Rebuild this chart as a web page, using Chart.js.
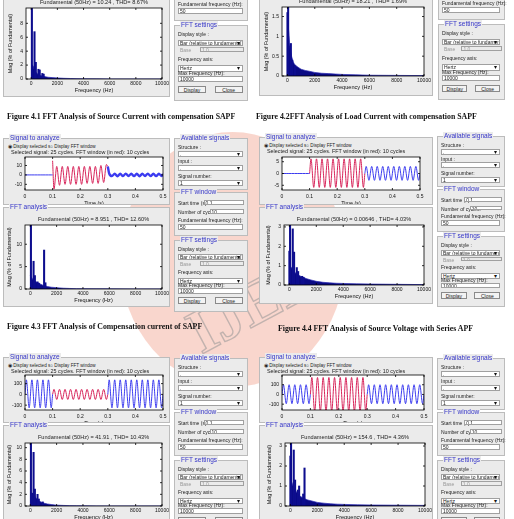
<!DOCTYPE html>
<html>
<head>
<meta charset="utf-8">
<script src="https://cdn.jsdelivr.net/npm/chart.js@4.4.1/dist/chart.umd.min.js"></script>
<style>
body{margin:0;width:514px;height:519px;overflow:hidden;background:#fff;position:relative;font-family:'Liberation Sans',Arial,sans-serif}
.box{position:absolute;background:#ebebeb;border:1px solid #bcbcbc;box-sizing:border-box;z-index:1}
.clip{overflow:hidden}
.leg{position:absolute;color:#3535c8;font-size:6.5px;line-height:7px;background:#ebebeb;padding:0 1px;white-space:nowrap;z-index:3}
.lbl{position:absolute;font-size:5px;line-height:6px;color:#222;white-space:nowrap;z-index:2}
.inp{position:absolute;background:#fff;border:1px solid #a0a0a0;box-sizing:border-box;font-size:5px;line-height:5px;padding-left:1px;color:#222;white-space:nowrap;overflow:hidden;z-index:2}
.dd:after{content:'\25BE';position:absolute;right:2px;top:0;font-size:6px;line-height:5px;color:#111}
.btn{position:absolute;background:#f3f3f3;border:1px solid #8a8a8a;box-sizing:border-box;font-size:5px;text-align:center;color:#222;z-index:2}
.cap{position:absolute;font-family:'Liberation Serif','Times New Roman',serif;font-weight:bold;font-size:7.8px;line-height:9px;white-space:nowrap;color:#111}
.wm{position:absolute;z-index:0}
</style>
</head>
<body>
<script>
// axis ticks shared by all figures
const freqTicks = [0, 2000, 4000, 6000, 8000, 10000];
const timeTicks = [0, 0.1, 0.2, 0.3, 0.4, 0.5];

// frequencies of the dense harmonic floor and sample times of the signals
const floorHz = [0, 100, 150, 200, 300, 400, 500, 700, 1000, 1300, 1600, 2000, 2500, 3000, 3500, 4000, 5000, 6000, 8000, 10000];
const tPre = [0, 0.005, 0.015, 0.025, 0.035, 0.045, 0.055, 0.065, 0.075, 0.085, 0.095, 0.1];
const tWin = [0.1, 0.105, 0.115, 0.125, 0.135, 0.145, 0.155, 0.165, 0.175, 0.185, 0.195, 0.205, 0.215, 0.225, 0.235, 0.245, 0.255, 0.265, 0.275, 0.285, 0.295, 0.3];
const tPost = [0.3, 0.305, 0.315, 0.325, 0.335, 0.345, 0.355, 0.365, 0.375, 0.385, 0.395, 0.405, 0.415, 0.425, 0.435, 0.445, 0.455, 0.465, 0.475, 0.485, 0.495, 0.5];

// Figure 4.1 - source current with SAPF
const fig41Title = 'Fundamental (50Hz) = 10.24 , THD= 8.67%';
const fig41HarmHz = [50, 250, 350, 550, 650, 850, 950];
const fig41Harm = [100, 6.8, 2.4, 1.4, 1.3, 0.8, 0.7];
const fig41Floor = [2.1, 2.0, 1.8, 1.5, 1.1, 0.9, 0.7, 0.5, 0.35, 0.25, 0.2, 0.15, 0.1, 0.07, 0.05, 0.03, 0.02, 0.01, 0.01, 0.01];
const fig41YTicks = [0, 2, 4, 6, 8];

// Figure 4.2 - load current
const fig42Title = 'Fundamental (50Hz) = 18.21 , THD= 1.69%';
const fig42HarmHz = [0, 50, 250, 350, 550];
const fig42Harm = [1.6, 100, 0.82, 0.4, 0.25];
const fig42Floor = [1.45, 1.1, 0.85, 0.7, 0.5, 0.38, 0.3, 0.24, 0.17, 0.14, 0.12, 0.09, 0.07, 0.06, 0.05, 0.04, 0.03, 0.02, 0.015, 0.01];
const fig42YTicks = [0, 0.5, 1, 1.5];

// Figure 4.3 - compensation current
const fig43Title = 'Fundamental (50Hz) = 8.951 , THD= 12.60%';
const fig43HarmHz = [50, 250, 350, 550, 650, 1050, 1150];
const fig43Harm = [100, 6.2, 3.0, 1.6, 1.3, 8.7, 1.4];
const fig43Floor = [3.0, 2.6, 2.3, 2.1, 1.9, 1.7, 1.5, 1.2, 0.8, 0.55, 0.4, 0.3, 0.18, 0.12, 0.08, 0.06, 0.04, 0.03, 0.02, 0.02];
const fig43YTicks = [0, 5, 10];
const fig43SigTicks = [-10, 0, 10];
const fig43Pre = [0, 0, 0, 0, 0, 0, 0, 0, 0, 0, 0, 0];
const fig43Win = [15, -15, 9, -11, 9, -10, 9, -10, 9, -10, 9, -10, 9, -9, 9, -9, 9, -9, 10, -8, 11, 9];
const fig43Post = [9, 1.5, -1.2, 1.3, -1.4, 1.2, -1.3, 1.4, -1.2, 1.3, -1.3, 1.2, -1.4, 1.3, -1.2, 1.4, -1.3, 1.2, -1.3, 1.3, -1.2, 1.0];

// Figure 4.4 - source voltage with series APF
const fig44Title = 'Fundamental (50Hz) = 0.00646 , THD= 4.03%';
const fig44HarmHz = [0, 50, 250, 350, 550, 650, 950, 1050];
const fig44Harm = [1.75, 100, 2.9, 1.7, 0.9, 0.7, 0.45, 0.4];
const fig44Floor = [1.0, 0.95, 0.9, 0.85, 0.75, 0.65, 0.6, 0.5, 0.4, 0.32, 0.26, 0.19, 0.14, 0.11, 0.09, 0.08, 0.06, 0.05, 0.035, 0.02];
const fig44YTicks = [0, 1, 2, 3];
const fig44SigTicks = [-5, 0, 5];
const fig44Pre = [0, 0, 0, 0, 0, 0, 0, 0, 0, 0, 0, 0];
const fig44Win = [0, 6.2, -5.9, 6.2, -5.9, 6.2, -5.9, 6.2, -5.9, 6.2, -5.9, 6.2, -5.9, 6.2, -5.9, 6.2, -5.9, 6.2, -5.9, 6.2, -5.9, 0];
const fig44Post = [0, 3, -2.9, 3, -2.9, 3, -2.9, 3, -2.9, 3, -2.9, 3, -2.9, 3, -2.9, 3, -2.9, 3, -2.9, 3, -2.9, 0];

// Figure 4.5
const fig45Title = 'Fundamental (50Hz) = 41.91 , THD= 10.43%';
const fig45HarmHz = [50, 150, 250, 350, 550, 650, 950];
const fig45Harm = [100, 2.2, 9.2, 2.9, 2.0, 1.2, 0.7];
const fig45Floor = [2.3, 2.2, 2.1, 2.0, 1.8, 1.5, 1.2, 0.8, 0.5, 0.35, 0.25, 0.15, 0.1, 0.06, 0.04, 0.03, 0.02, 0.01, 0.01, 0.01];
const fig45YTicks = [0, 2, 4, 6, 8, 10];
const fig45SigTicks = [-100, 0, 100];
const fig45Pre = [0, 135, -125, 135, -125, 135, -125, 135, -125, 135, -125, 0];
const fig45Win = [0, 47, -47, 47, -47, 47, -47, 47, -47, 47, -47, 47, -47, 47, -47, 47, -47, 47, -47, 47, -47, 0];
const fig45Post = [0, 135, -125, 135, -125, 135, -125, 135, -125, 135, -125, 135, -125, 135, -125, 135, -125, 135, -125, 135, -125, 0];

// Figure 4.6
const fig46Title = 'Fundamental (50Hz) = 154.6 , THD= 4.36%';
const fig46HarmHz = [0, 50, 250, 350, 550, 650, 950, 1050];
const fig46Harm = [2.5, 100, 2.8, 1.3, 0.8, 1.0, 0.6, 1.9];
const fig46Floor = [1.3, 1.2, 1.1, 1.0, 0.9, 0.75, 0.65, 0.5, 0.38, 0.3, 0.25, 0.18, 0.14, 0.11, 0.09, 0.08, 0.06, 0.05, 0.04, 0.03];
const fig46YTicks = [0, 1, 2, 3];
const fig46SigTicks = [-100, 0, 100];
const fig46Pre = [0, 100, -95, 100, -95, 100, -95, 100, -95, 100, -95, 0];
const fig46Win = [0, 175, -175, 175, -175, 175, -175, 175, -175, 175, -175, 175, -175, 175, -175, 175, -175, 175, -175, 175, -175, 0];
const fig46Post = [0, 100, -95, 100, -95, 100, -95, 100, -95, 100, -95, 100, -95, 100, -95, 100, -95, 100, -95, 100, -95, 0];

const captions = [
  ['Figure 4.1 FFT Analysis of Source Current with compensation SAPF', 7, 112],
  ['Figure 4.2FFT Analysis of Load Current with compensation SAPF', 256, 112],
  ['Figure 4.3 FFT Analysis of Compensation current of SAPF', 7, 322],
  ['Figure 4.4 FFT Analysis of Source Voltage with Series APF', 278, 324]
];

Chart.defaults.font.family = "'Liberation Sans', Arial, sans-serif";
Chart.defaults.color = '#111';

// MATLAB style box with inward ticks
const matlabAxes = {
  id: 'matlabAxes',
  beforeDraw(chart) {
    const a = chart.chartArea, ctx = chart.ctx;
    ctx.save();
    ctx.fillStyle = '#fff';
    ctx.fillRect(a.left, a.top, a.right - a.left, a.bottom - a.top);
    ctx.restore();
  },
  afterDraw(chart) {
    const a = chart.chartArea, ctx = chart.ctx;
    const x = chart.scales.x, y = chart.scales.y;
    ctx.save();
    ctx.strokeStyle = '#000';
    ctx.lineWidth = 0.8;
    ctx.strokeRect(a.left, a.top, a.right - a.left, a.bottom - a.top);
    ctx.beginPath();
    x.ticks.forEach(t => {
      const p = x.getPixelForValue(t.value);
      ctx.moveTo(p, a.bottom); ctx.lineTo(p, a.bottom - 2);
      ctx.moveTo(p, a.top); ctx.lineTo(p, a.top + 2);
    });
    y.ticks.forEach(t => {
      const p = y.getPixelForValue(t.value);
      ctx.moveTo(a.left, p); ctx.lineTo(a.left + 2, p);
      ctx.moveTo(a.right, p); ctx.lineTo(a.right - 2, p);
    });
    ctx.stroke();
    ctx.restore();
  }
};

function div(cls, x, y, w, h, text, parent) {
  const d = document.createElement('div');
  d.className = cls;
  d.style.left = x + 'px';
  d.style.top = y + 'px';
  if (w != null) d.style.width = w + 'px';
  if (h != null) d.style.height = h + 'px';
  if (text != null) d.textContent = text;
  (parent || document.body).appendChild(d);
  return d;
}

function groupBox(x, y, w, h, legend, clip) {
  const el = div('box' + (clip ? ' clip' : ''), x, y, w, h);
  if (legend) div('leg', x + 6, y - 4, null, null, legend).style.zIndex = 4;
  return { el, x, y };
}

function guiColumn(x, w, y0, s) {
  const Y = o => y0 + s * o;
  const lx = x + 4, iw = w - 9;
  groupBox(x, Y(0), w, 52 * s, 'Available signals');
  div('lbl', lx, Y(6), null, null, 'Structure :');
  div('inp dd', lx, Y(13), iw, 6 * s, '.');
  div('lbl', lx, Y(20), null, null, 'Input :');
  div('inp dd', lx, Y(27), iw, 6 * s, '.');
  div('lbl', lx, Y(35), null, null, 'Signal number:');
  div('inp dd', lx, Y(42), iw, 6 * s, '1');
  groupBox(x, Y(54), w, 44 * s, 'FFT window');
  div('lbl', lx, Y(62), null, null, 'Start time (s):');
  div('inp', x + w * 0.4, Y(62), w * 0.55, 5 * s, '0.1');
  div('lbl', lx, Y(71), null, null, 'Number of cycles:');
  div('inp', x + w * 0.48, Y(71), w * 0.47, 5 * s, '10');
  div('lbl', lx, Y(79), null, null, 'Fundamental frequency (Hz):');
  div('inp', lx, Y(86), iw, 5.5 * s, '50');
  groupBox(x, Y(102), w, 72 * s, 'FFT settings');
  div('lbl', lx, Y(108), null, null, 'Display style :');
  div('inp dd', lx, Y(116), iw, 6 * s, 'Bar (relative to fundamental)');
  const b = div('lbl', lx + 2, Y(123), null, null, 'Base');
  b.style.color = '#999';
  const bi = div('inp', x + w * 0.35, Y(123), w * 0.6, 4.5 * s, '1.0');
  bi.style.color = '#999'; bi.style.background = '#ebebeb';
  div('lbl', lx, Y(131), null, null, 'Frequency axis:');
  div('inp dd', lx, Y(140), iw, 6 * s, 'Hertz');
  div('lbl', lx, Y(144), null, null, 'Max Frequency (Hz):').style.zIndex = 3;
  div('inp', lx, Y(150), iw, 5.5 * s, '10000');
  div('btn', lx, Y(159), w * 0.38, 7 * s, 'Display');
  div('btn', x + w * 0.55, Y(159), w * 0.38, 7 * s, 'Close');
}

function addChart(box, plot, yW, xH, config) {
  const padTop = 4, padRight = 12;
  const left = plot.l - yW, top = plot.t - padTop;
  const w = plot.r - left + padRight, h = plot.b - top + xH;
  const c = document.createElement('canvas');
  c.width = w; c.height = h;
  c.style.cssText = 'position:absolute;left:' + (left - box.x - 1) + 'px;top:' + (top - box.y - 1) + 'px;width:' + w + 'px;height:' + h + 'px';
  box.el.appendChild(c);
  config.options.layout = { padding: { top: padTop, right: padRight, left: 0, bottom: 0 } };
  config.options.responsive = false;
  config.options.animation = false;
  config.options.devicePixelRatio = 1;
  config.options.events = [];
  config.options.plugins = { legend: { display: false }, tooltip: { enabled: false } };
  config.plugins = [matlabAxes];
  return new Chart(c, config);
}

function fixedTicks(values) {
  return s => { s.ticks = values.map(v => ({ value: v })); };
}

const noGrid = { display: false, drawTicks: false };

function fftChart(box, plot, title, harmHz, harm, floor, yMax, yTicks) {
  div('lbl', plot.l, plot.t - 7, plot.r - plot.l, null, title, box.el).style.cssText +=
    ';left:' + (plot.l - box.x - 1) + 'px;top:' + (plot.t - 7 - box.y - 1) + 'px;text-align:center;font-size:5.6px';
  addChart(box, plot, 19, 15, {
    type: 'bar',
    data: {
      datasets: [
        { type: 'bar', data: harmHz.map((f, i) => ({ x: f, y: harm[i] })), backgroundColor: '#0d0d8e',
          borderWidth: 0, barThickness: 1.4, order: 1 },
        { type: 'line', data: floorHz.map((f, i) => ({ x: f, y: floor[i] })), fill: 'origin',
          backgroundColor: '#0a0a84', borderColor: '#2b2bb0', borderWidth: 0.7, pointRadius: 0, tension: 0, order: 2 }
      ]
    },
    options: {
      scales: {
        x: { type: 'linear', min: -400, max: 10000, offset: false,
             grid: noGrid, border: { display: false },
             afterBuildTicks: fixedTicks(freqTicks),
             afterFit: s => { s.height = 15; },
             ticks: { font: { size: 5 }, padding: 2, maxRotation: 0, autoSkip: false, callback: v => String(v) },
             title: { display: true, text: 'Frequency (Hz)', font: { size: 5.6 }, padding: 0 } },
        y: { type: 'linear', min: 0, max: yMax,
             grid: noGrid, border: { display: false },
             afterBuildTicks: fixedTicks(yTicks),
             afterFit: s => { s.width = 19; },
             ticks: { font: { size: 5 }, padding: 3, callback: v => String(v) },
             title: { display: true, text: 'Mag (% of Fundamental)', font: { size: 5.4 }, padding: 0 } }
      }
    }
  });
}

function signalChart(box, plot, pre, win, post, yMin, yMax, yTicks) {
  const pts = (t, v) => t.map((x, i) => ({ x, y: v[i] }));
  const line = (data, color, bw) => ({ data, borderColor: color, borderWidth: bw || 1, pointRadius: 0,
    cubicInterpolationMode: 'monotone', fill: false });
  addChart(box, plot, 18, 17, {
    type: 'line',
    data: { datasets: [line(pts(tPre, pre), '#3c3cf0'), line(pts(tPost, post), '#3c3cf0', post === fig43Post ? 2.4 : 1),
                       line(pts(tWin, win), '#d8245a')] },
    options: {
      scales: {
        x: { type: 'linear', min: 0, max: 0.5, grid: noGrid, border: { display: false },
             afterBuildTicks: fixedTicks(timeTicks), afterFit: s => { s.height = 17; },
             ticks: { font: { size: 5 }, padding: 4, maxRotation: 0, autoSkip: false, callback: v => String(v) },
             title: { display: true, text: 'Time (s)', font: { size: 5.4 }, padding: 0 } },
        y: { type: 'linear', min: yMin, max: yMax, grid: noGrid, border: { display: false },
             afterBuildTicks: fixedTicks(yTicks), afterFit: s => { s.width = 18; },
             ticks: { font: { size: 5 }, padding: 3, callback: v => String(v) } }
      }
    }
  });
}

function signalHeader(box) {
  const r = div('lbl', 4, 5, null, null, '\u25C9 Display selected s\u25CB Display FFT window', box.el);
  r.style.fontSize = '4.6px';
  const s = div('lbl', 7, 9.5, null, null, 'Selected signal: 25 cycles. FFT window (in red): 10 cycles', box.el);
  s.style.fontSize = '5.4px';
}

// watermark behind the figures
const wm = div('wm', 120, 132, 225, 255);
wm.style.cssText += ';border-radius:50%;background:rgba(236,118,88,0.3)';
const wt = div('wm', 175, 305, null, null, 'IJEDR');
wt.style.cssText += ';font:bold 62px "Liberation Serif",serif;color:rgba(255,255,255,0);-webkit-text-stroke:1.4px rgba(150,150,150,0.55);transform:rotate(-28deg);transform-origin:left top';

// Figure 4.1
let b = groupBox(3, -12, 167, 109, null, true);
fftChart(b, { l: 26, r: 162, t: 6, b: 79 }, fig41Title, fig41HarmHz, fig41Harm, fig41Floor, 10.2, fig41YTicks);
guiColumn(174, 74, -83, 1.06);

// Figure 4.2
b = groupBox(259, -12, 174, 108, null, true);
fftChart(b, { l: 282, r: 424, t: 5, b: 76 }, fig42Title, fig42HarmHz, fig42Harm, fig42Floor, 1.74, fig42YTicks);
guiColumn(438, 67, -84, 1.06);

// Figure 4.3
b = groupBox(3, 138, 167, 67, 'Signal to analyze', true);
signalHeader(b);
signalChart(b, { l: 25, r: 163, t: 155, b: 190 }, fig43Pre, fig43Win, fig43Post, -16, 19, fig43SigTicks);
b = groupBox(3, 207, 167, 100, 'FFT analysis', true);
fftChart(b, { l: 25, r: 162, t: 223, b: 289 }, fig43Title, fig43HarmHz, fig43Harm, fig43Floor, 14.3, fig43YTicks);
guiColumn(174, 74, 138, 1);

// Figure 4.4
b = groupBox(259, 137, 174, 68, 'Signal to analyze', true);
signalHeader(b);
signalChart(b, { l: 282, r: 420, t: 155, b: 190 }, fig44Pre, fig44Win, fig44Post, -7, 7, fig44SigTicks);
b = groupBox(259, 207, 174, 97, 'FFT analysis', true);
fftChart(b, { l: 284, r: 424, t: 223, b: 285 }, fig44Title, fig44HarmHz, fig44Harm, fig44Floor, 3.1, fig44YTicks);
guiColumn(437, 68, 136, 0.98);

// Figure 4.5
b = groupBox(3, 357, 167, 66, 'Signal to analyze', true);
signalHeader(b);
signalChart(b, { l: 25, r: 163, t: 373, b: 410 }, fig45Pre, fig45Win, fig45Post, -145, 180, fig45SigTicks);
b = groupBox(3, 425, 167, 110, 'FFT analysis', true);
fftChart(b, { l: 25, r: 162, t: 441, b: 506 }, fig45Title, fig45HarmHz, fig45Harm, fig45Floor, 10.8, fig45YTicks);
guiColumn(174, 74, 358, 1);

// Figure 4.6
b = groupBox(259, 357, 174, 66, 'Signal to analyze', true);
signalHeader(b);
signalChart(b, { l: 282, r: 424, t: 373, b: 410 }, fig46Pre, fig46Win, fig46Post, -160, 200, fig46SigTicks);
b = groupBox(259, 425, 174, 110, 'FFT analysis', true);
fftChart(b, { l: 285, r: 425, t: 441, b: 506 }, fig46Title, fig46HarmHz, fig46Harm, fig46Floor, 3.15, fig46YTicks);
guiColumn(437, 68, 358, 1);

captions.forEach(c => { const d = div('cap', c[1], c[2], null, null, c[0]); d.style.zIndex = 2; });
</script>
</body>
</html>
